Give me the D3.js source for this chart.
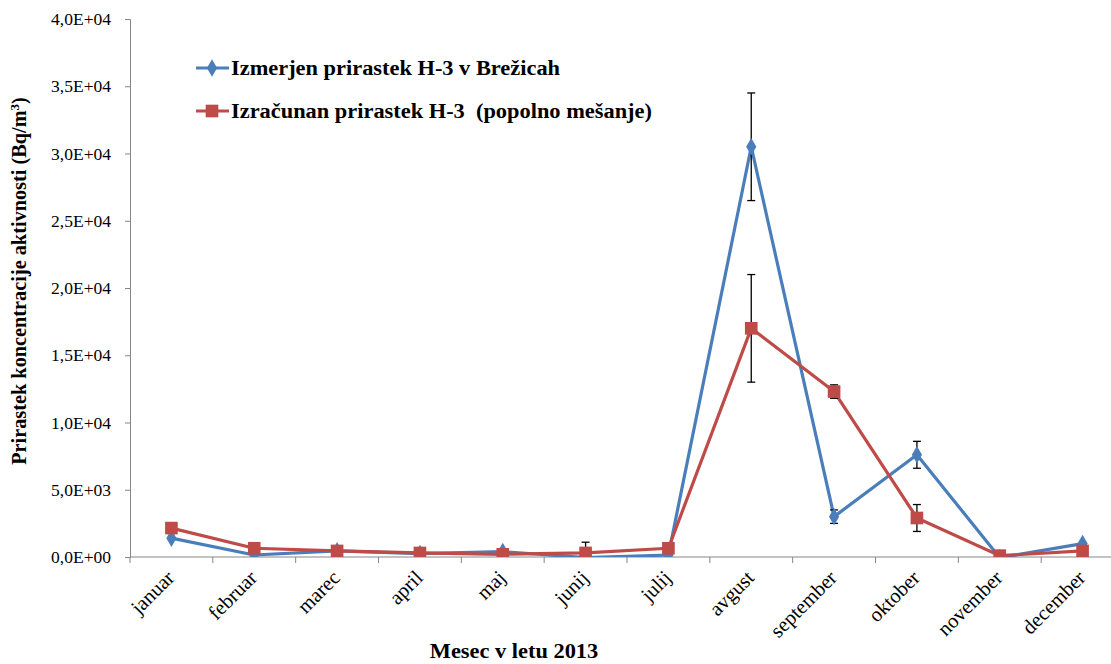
<!DOCTYPE html>
<html>
<head>
<meta charset="utf-8">
<script src="https://cdn.jsdelivr.net/npm/d3@7"></script>
<style>
  body { margin: 0; background: #fff; }
  svg { display: block; }
  svg text { font-family: "Liberation Serif", "Times New Roman", serif; }
</style>
</head>
<body>
<div id="chart"></div>
<script>
// Data
const months = ["januar", "februar", "marec", "april", "maj", "junij", "julij",
  "avgust", "september", "oktober", "november", "december"];
const measured = [1400, 150, 450, 250, 400, -50, 150, 30500, 3000, 7600, -50, 1000];
const measuredErr = [0, 0, 0, 0, 0, 0, 0, 4000, 500, 1000, 0, 0];
const calculated = [2150, 650, 450, 300, 200, 300, 650, 17000, 12300, 2900, 100, 450];
const calculatedErr = [0, 0, 0, 0, 0, 800, 0, 4000, 500, 1000, 0, 0];
const yTicks = [0, 5000, 10000, 15000, 20000, 25000, 30000, 35000, 40000];
const seriesNames = ["Izmerjen prirastek H-3 v Brežicah", "Izračunan prirastek H-3  (popolno mešanje)"];

// Dimensions
const width = 1111, height = 664;
const plotLeft = 130, plotTop = 19, plotBottom = 557, plotRight = 1124;
const stretch = 1.12; // the original text is a bit wider than it is tall

const svg = d3.select("#chart")
  .append("svg")
  .attr("width", width)
  .attr("height", height);

const x = d3.scaleBand()
  .domain(months)
  .range([plotLeft, plotRight]);

const y = d3.scaleLinear()
  .domain([0, 40000])
  .range([plotBottom, plotTop]);

const fmt = v => {
  const e = v === 0 ? 0 : Math.floor(Math.log10(v));
  const m = v === 0 ? 0 : v / Math.pow(10, e);
  return m.toFixed(1).replace(".", ",") + "E" + (e < 0 ? "-" : "+") + String(Math.abs(e)).padStart(2, "0");
};

// Y axis
const yAxis = svg.append("g")
  .attr("transform", "translate(" + plotLeft + ",0)")
  .call(d3.axisLeft(y).tickValues(yTicks).tickFormat(fmt).tickSize(5).tickPadding(14));
yAxis.attr("font-family", null).attr("font-size", null);
yAxis.select(".domain").attr("stroke", "#868686");
yAxis.selectAll(".tick line").attr("stroke", "#868686");
yAxis.selectAll("text").style("font-size", "17.5px").attr("fill", "#000");

// X axis (ticks between categories)
const xAxis = svg.append("g")
  .attr("transform", "translate(0," + plotBottom + ")");
xAxis.append("line")
  .attr("x1", plotLeft).attr("x2", plotRight)
  .attr("stroke", "#868686");
xAxis.selectAll(".xtick")
  .data(months)
  .enter()
  .append("line")
  .attr("x1", d => x(d)).attr("x2", d => x(d))
  .attr("y1", 0).attr("y2", 6)
  .attr("stroke", "#868686");
xAxis.selectAll(".xlabel")
  .data(months)
  .enter()
  .append("text")
  .text(d => d)
  .attr("transform", d => "translate(" + (x(d) + x.bandwidth() / 2 - 1) + ",17) rotate(-45)")
  .attr("text-anchor", "end")
  .attr("dy", "0.35em")
  .style("font-size", "20.5px");

// Axis titles
svg.append("text")
  .text("Mesec v letu 2013")
  .attr("transform", "translate(514,658) scale(" + stretch + ",1)")
  .attr("text-anchor", "middle")
  .style("font-size", "20px").style("font-weight", "bold");

const yTitle = svg.append("text")
  .attr("transform", "translate(26," + 281 + ") rotate(-90)")
  .attr("text-anchor", "middle")
  .style("font-size", "20.3px").style("font-weight", "bold");
yTitle.append("tspan").text("Prirastek koncentracije aktivnosti (Bq/m");
yTitle.append("tspan").text("3").attr("baseline-shift", "super").style("font-size", "13px");
yTitle.append("tspan").text(")");

// Clip to plot area
svg.append("clipPath").attr("id", "plot")
  .append("rect").attr("x", plotLeft).attr("y", plotTop - 10)
  .attr("width", plotRight - plotLeft).attr("height", plotBottom - plotTop + 10);

const cx = d => x(d) + x.bandwidth() / 2;
const line = d3.line()
  .x(d => cx(d.month))
  .y(d => y(d.value));

const series = [
  { name: seriesNames[0], values: measured, err: measuredErr, color: "#4a7ebb", shape: d3.symbolDiamond, size: 90 },
  { name: seriesNames[1], values: calculated, err: calculatedErr, color: "#be4b48", shape: d3.symbolSquare, size: 160 }
];

const plot = svg.append("g").attr("clip-path", "url(#plot)");

series.forEach(s => {
  const pts = months.map((m, i) => ({ month: m, value: s.values[i], err: s.err[i] }));

  plot.append("path")
    .datum(pts)
    .attr("d", line)
    .attr("fill", "none")
    .attr("stroke", s.color)
    .attr("stroke-width", 3.2)
    .attr("stroke-linejoin", "round");

  // Error bars
  const eb = plot.selectAll(null)
    .data(pts.filter(d => d.err > 0))
    .enter()
    .append("g")
    .attr("stroke", "#000")
    .attr("stroke-width", 1.3);
  eb.append("line")
    .attr("x1", d => cx(d.month)).attr("x2", d => cx(d.month))
    .attr("y1", d => y(d.value + d.err)).attr("y2", d => y(d.value - d.err));
  eb.append("line")
    .attr("x1", d => cx(d.month) - 4).attr("x2", d => cx(d.month) + 4)
    .attr("y1", d => y(d.value + d.err)).attr("y2", d => y(d.value + d.err));
  eb.append("line")
    .attr("x1", d => cx(d.month) - 4).attr("x2", d => cx(d.month) + 4)
    .attr("y1", d => y(d.value - d.err)).attr("y2", d => y(d.value - d.err));

  plot.selectAll(null)
    .data(pts)
    .enter()
    .append("path")
    .attr("d", d3.symbol().type(s.shape).size(s.size))
    .attr("transform", d => "translate(" + cx(d.month) + "," + y(d.value) + ")")
    .attr("fill", s.color);
});

// Legend
const legend = svg.append("g");
series.forEach((s, i) => {
  const ly = 68 + i * 43;
  legend.append("line")
    .attr("x1", 196).attr("x2", 229)
    .attr("y1", ly).attr("y2", ly)
    .attr("stroke", s.color).attr("stroke-width", 3.2);
  legend.append("path")
    .attr("d", d3.symbol().type(s.shape).size(s.size))
    .attr("transform", "translate(212," + ly + ")")
    .attr("fill", s.color);
  legend.append("text")
    .text(s.name)
    .attr("transform", "translate(231," + ly + ") scale(" + stretch + ",1)")
    .attr("dy", "0.35em")
    .attr("xml:space", "preserve")
    .style("white-space", "pre")
    .style("font-size", "20px").style("font-weight", "bold");
});
</script>
</body>
</html>
